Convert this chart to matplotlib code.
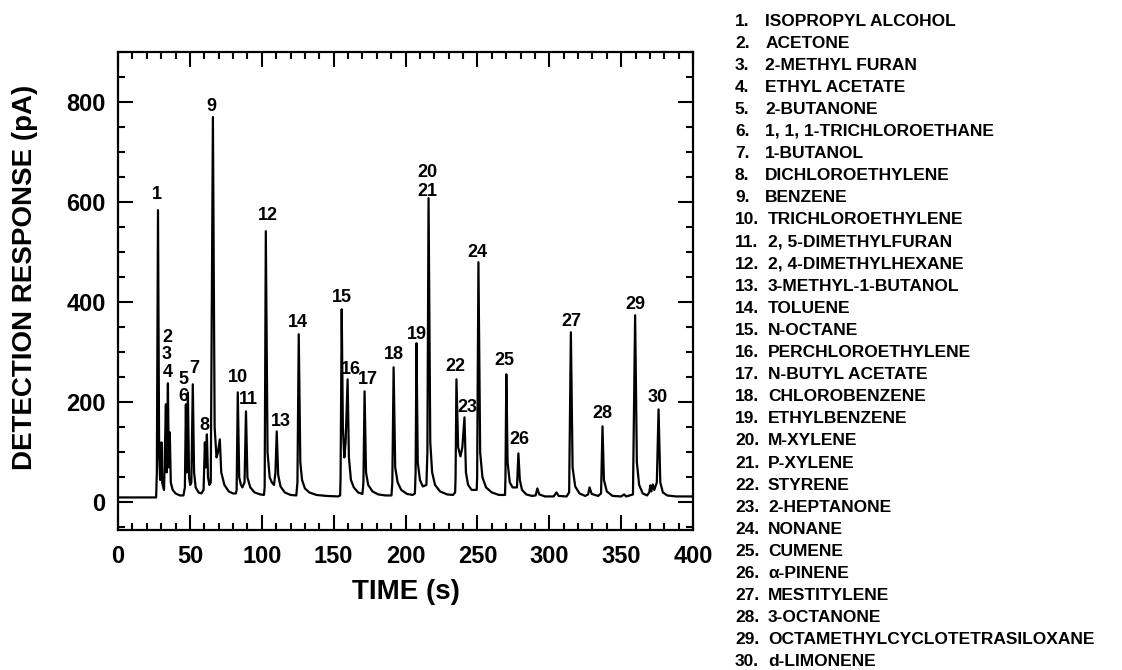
import matplotlib
matplotlib.use("Agg")
import matplotlib.pyplot as plt
import matplotlib.ticker as ticker

plt.rcParams["font.family"] = ["Liberation Sans", "DejaVu Sans"]
plt.rcParams["font.weight"] = "bold"

# chromatogram trace (time in s, signal in pA)
trace_time = [
    0, 26.5, 27.0, 27.8, 28.6, 29.3, 29.8, 30.2, 30.7,
    31.5, 32.0, 33.3, 33.8, 34.7, 35.3, 36.0, 36.7, 38, 40, 43, 45.5,
    46.5, 47.2, 47.7, 48.6, 49.4, 50.2,
    51, 52, 52.9, 54, 56, 58,
    59.5, 60.4, 61, 61.8, 62.6, 63.6,
    64.5, 66, 67.2, 68.5, 69.5, 70.8, 71.8, 74, 77, 80, 82,
    82.5, 83.3, 84.3, 85.5, 86.5,
    88, 89, 90, 92, 95, 99, 101.5,
    102, 102.8, 104, 105.5, 107, 108.5,
    109.5, 110.4, 111.4, 113, 116, 120, 124,
    124.8, 125.7, 126.8, 128, 130, 133, 138, 145, 153, 154.5,
    154.8, 155.6, 156.4, 157.4, 158.3, 159.7, 160.6, 162, 164, 167, 170,
    170.7, 171.5, 172.5, 174, 177, 181, 186, 190.2,
    190.8, 191.7, 192.8, 194.5, 197, 201, 205, 206.5,
    207, 207.6, 208.5, 210, 212, 214.5,
    215.2, 216, 217.2, 218.5, 220.5, 224, 229, 233, 234.5,
    234.8, 235.4, 236.6, 238.2, 239.5, 241, 242, 243.5, 246, 249.5,
    249.8, 250.7, 251.9, 253.5, 256, 260, 265, 269.2,
    269.5, 270.1, 271, 272.5, 274.5, 277.5,
    278.5, 279.5, 281, 284, 288, 290.5,
    291.7, 293, 297, 303,
    305, 306.5, 312, 313.8,
    315, 316.2, 318, 321, 325, 327,
    328, 329.5, 334, 336,
    337, 338, 340, 344, 350,
    352, 353.5, 358.2,
    359.7, 360.9, 362.5, 365, 368, 369.5,
    370.3, 371, 372, 373, 374.8,
    376, 377.2, 379, 382, 388, 400,
]
trace_signal = [
    10, 10, 60, 584, 90, 45, 50, 120, 40,
    30, 25, 196, 60, 238, 70, 140, 40, 25, 18, 14, 14,
    30, 196, 60, 220, 50, 35,
    40, 236, 60, 30, 20, 18,
    25, 120, 70, 136, 50, 35,
    40, 770, 150, 90, 100, 126, 60, 35, 22, 18, 18,
    25, 220, 50, 35, 30,
    40, 182, 50, 30, 20, 16, 15,
    30, 542, 100, 50, 40, 35,
    60, 142, 55, 32, 20, 15, 14,
    40, 336, 80, 45, 28, 20, 15, 13, 12, 14,
    50, 386, 150, 90, 120, 246, 90, 45, 30, 20, 17,
    40, 222, 60, 35, 22, 16, 14, 14,
    40, 270, 70, 40, 25, 17, 15, 18,
    60, 318, 80, 45, 32, 35,
    100, 608, 120, 60, 35, 22, 16, 15, 20,
    50, 246, 110, 92, 110, 170, 60, 35, 25, 25,
    50, 480, 100, 50, 30, 20, 15, 15,
    50, 256, 80, 40, 30, 30,
    98, 45, 25, 16, 13, 14,
    28, 16, 12, 12,
    20, 13, 12, 20,
    340, 70, 32, 18, 13, 16,
    30, 17, 13, 18,
    152, 45, 22, 13, 12,
    16, 12, 16,
    374, 80, 35, 18, 14, 20,
    34, 22, 36, 25, 40,
    186, 40, 20, 14, 12, 12,
]

# peak numbers written on the chart and where they sit (s, pA)
label_text = ["1", "2", "3", "4", "5", "6", "7", "8", "9", "10",
              "11", "12", "13", "14", "15", "16", "17", "18", "19", "20",
              "21", "22", "23", "24", "25", "26", "27", "28", "29", "30"]
label_t = [27, 34, 34, 34.5, 45.8, 45.8, 52.8, 60.4, 64.6, 83.3,
           91, 104, 113, 125, 155.6, 162.2, 173.6, 191.7, 208, 215.3,
           215.3, 234.7, 243, 250, 269, 279, 315.5, 336.6, 359.6, 375.6]
label_v = [616, 330, 296, 260, 246, 212, 268, 154, 792, 250,
           206, 574, 162, 360, 410, 266, 246, 296, 336, 660,
           622, 272, 190, 500, 284, 126, 362, 178, 396, 210]

compounds = [
    "ISOPROPYL ALCOHOL", "ACETONE", "2-METHYL FURAN", "ETHYL ACETATE",
    "2-BUTANONE", "1, 1, 1-TRICHLOROETHANE", "1-BUTANOL", "DICHLOROETHYLENE",
    "BENZENE", "TRICHLOROETHYLENE", "2, 5-DIMETHYLFURAN", "2, 4-DIMETHYLHEXANE",
    "3-METHYL-1-BUTANOL", "TOLUENE", "N-OCTANE", "PERCHLOROETHYLENE",
    "N-BUTYL ACETATE", "CHLOROBENZENE", "ETHYLBENZENE", "M-XYLENE",
    "P-XYLENE", "STYRENE", "2-HEPTANONE", "NONANE", "CUMENE",
    "\u03b1-PINENE", "MESTITYLENE", "3-OCTANONE",
    "OCTAMETHYLCYCLOTETRASILOXANE", "d-LIMONENE",
]

fig = plt.figure(figsize=(11.22, 6.7), dpi=100)
ax = fig.add_axes([0.1052, 0.209, 0.5125, 0.7134])

ax.plot(trace_time, trace_signal, color="black", lw=1.6, solid_joinstyle="round")

for txt, t, v in zip(label_text, label_t, label_v):
    ax.text(t, v, txt, ha="center", va="center", fontsize=13, fontweight="bold")

ax.set_xlim(0, 400)
ax.set_ylim(-55, 900)
ax.xaxis.set_major_locator(ticker.MultipleLocator(50))
ax.xaxis.set_minor_locator(ticker.MultipleLocator(10))
ax.yaxis.set_major_locator(ticker.MultipleLocator(200))
ax.yaxis.set_minor_locator(ticker.MultipleLocator(50))
ax.tick_params(which="both", direction="in", top=True, right=True, width=1.5)
ax.tick_params(which="major", length=11, labelsize=17)
ax.tick_params(axis="x", which="major", pad=11)
ax.tick_params(axis="y", which="major", pad=9)
ax.tick_params(which="minor", length=5)
for s in ax.spines.values():
    s.set_linewidth(1.6)
for lab in ax.get_xticklabels() + ax.get_yticklabels():
    lab.set_fontweight("bold")

ax.set_xlabel("TIME (s)", fontsize=20, fontweight="bold", labelpad=8)
ax.set_ylabel("DETECTION RESPONSE (pA)", fontsize=20, fontweight="bold")
ax.yaxis.set_label_coords(-0.139, 0.529)

# compound list at the right
for i, name in enumerate(compounds):
    num = i + 1
    y = 1 - (21 + i * 22.1) / 670
    fig.text(0.655, y, f"{num}.", ha="left", va="center",
             fontsize=12.5, fontweight="bold")
    name_x = 0.682 if num < 10 else 0.6845
    fig.text(name_x, y, name, ha="left", va="center",
             fontsize=12.5, fontweight="bold")

fig.savefig("out.png", dpi=100)
